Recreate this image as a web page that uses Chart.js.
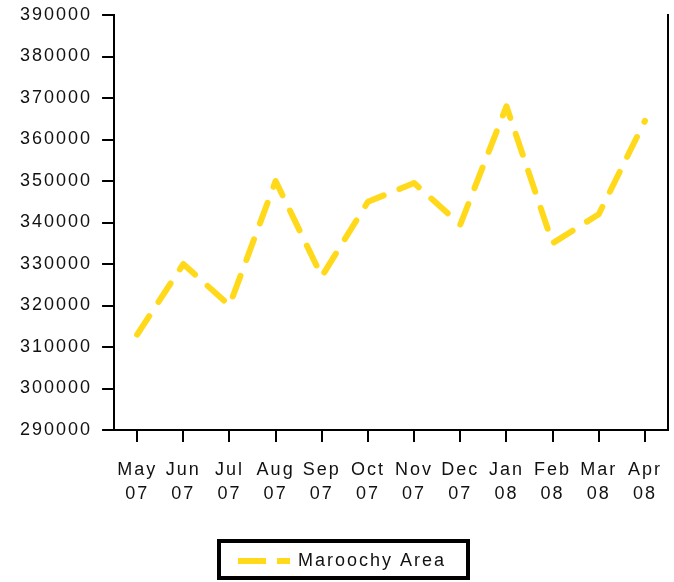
<!DOCTYPE html>
<html>
<head>
<meta charset="utf-8">
<script src="https://cdn.jsdelivr.net/npm/chart.js@4"></script>
<style>
  body { margin: 0; background: #fff; }
  #chart { display: block; }
</style>
</head>
<body>
<canvas id="chart" width="674" height="582"></canvas>
<script>
var months = [['May', '07'], ['Jun', '07'], ['Jul', '07'], ['Aug', '07'], ['Sep', '07'], ['Oct', '07'],
              ['Nov', '07'], ['Dec', '07'], ['Jan', '08'], ['Feb', '08'], ['Mar', '08'], ['Apr', '08']];
var maroochy = [313000, 330000, 320000, 350000, 327000, 345000, 349500, 339500, 368000, 335000, 342000, 364500];
var seriesName = 'Maroochy Area';
var yMin = 290000, yMax = 390000, yStep = 10000;

var lineColor = '#FFD91A';
var inkColor = '#111';

// old-style renderer draws text with wide letter spacing
var spacing = {
  id: 'spacing',
  beforeUpdate: function(c) { c.ctx.letterSpacing = '2px'; },
  beforeDraw: function(c) { c.ctx.letterSpacing = '2px'; }
};

// boxed legend under the chart
var boxLegend = {
  id: 'boxLegend',
  afterDraw: function(c) {
    var ctx = c.ctx, ds = c.data.datasets[0];
    ctx.save();
    ctx.strokeStyle = '#000';
    ctx.lineWidth = 4;
    ctx.strokeRect(219, 541, 249, 37);
    ctx.strokeStyle = ds.borderColor;
    ctx.lineWidth = ds.borderWidth;
    ctx.lineCap = 'butt';
    ctx.setLineDash([28, 11]);
    ctx.beginPath();
    ctx.moveTo(238, 561);
    ctx.lineTo(290, 561);
    ctx.stroke();
    ctx.setLineDash([]);
    ctx.letterSpacing = '2px';
    ctx.fillStyle = inkColor;
    ctx.font = '18px "Liberation Sans", Arial, sans-serif';
    ctx.textBaseline = 'middle';
    ctx.fillText(ds.label, 298, 561);
    ctx.restore();
  }
};

Chart.defaults.font.family = '"Liberation Sans", Arial, sans-serif';
Chart.defaults.font.size = 18;
Chart.defaults.color = inkColor;

new Chart(document.getElementById('chart'), {
  type: 'line',
  data: {
    labels: months,
    datasets: [{
      label: seriesName,
      data: maroochy,
      borderColor: lineColor,
      borderWidth: 6,
      borderDash: [22, 17],
      borderCapStyle: 'round',
      borderJoinStyle: 'round',
      pointRadius: 0,
      tension: 0,
      fill: false
    }]
  },
  options: {
    responsive: false,
    animation: false,
    layout: { padding: { left: 10, right: 6, top: 15, bottom: 60 } },
    plugins: {
      legend: { display: false },
      tooltip: { enabled: false }
    },
    scales: {
      x: {
        offset: true,
        grid: { offset: false, drawOnChartArea: false, color: '#000', lineWidth: 2, tickLength: 12 },
        border: { color: '#000', width: 2 },
        ticks: { padding: 16, maxRotation: 0, autoSkip: false, font: { size: 18, lineHeight: 1.333 } },
        // labels sit inside their category slots, no extra side padding needed
        afterFit: function(s) { s.paddingLeft = 0; s.paddingRight = 0; }
      },
      y: {
        min: yMin,
        max: yMax,
        grid: { drawOnChartArea: false, color: '#000', lineWidth: 2, tickLength: 12 },
        border: { color: '#000', width: 2 },
        ticks: {
          stepSize: yStep,
          padding: 10,
          font: { size: 18, lineHeight: 0.5 },
          callback: function(v) { return String(v); }
        }
      },
      yRight: {
        position: 'right',
        min: yMin,
        max: yMax,
        grid: { drawOnChartArea: false, drawTicks: false },
        border: { color: '#000', width: 2 },
        ticks: { display: false },
        afterFit: function(s) { s.width = 0; }
      }
    }
  },
  plugins: [spacing, boxLegend]
});
</script>
</body>
</html>
